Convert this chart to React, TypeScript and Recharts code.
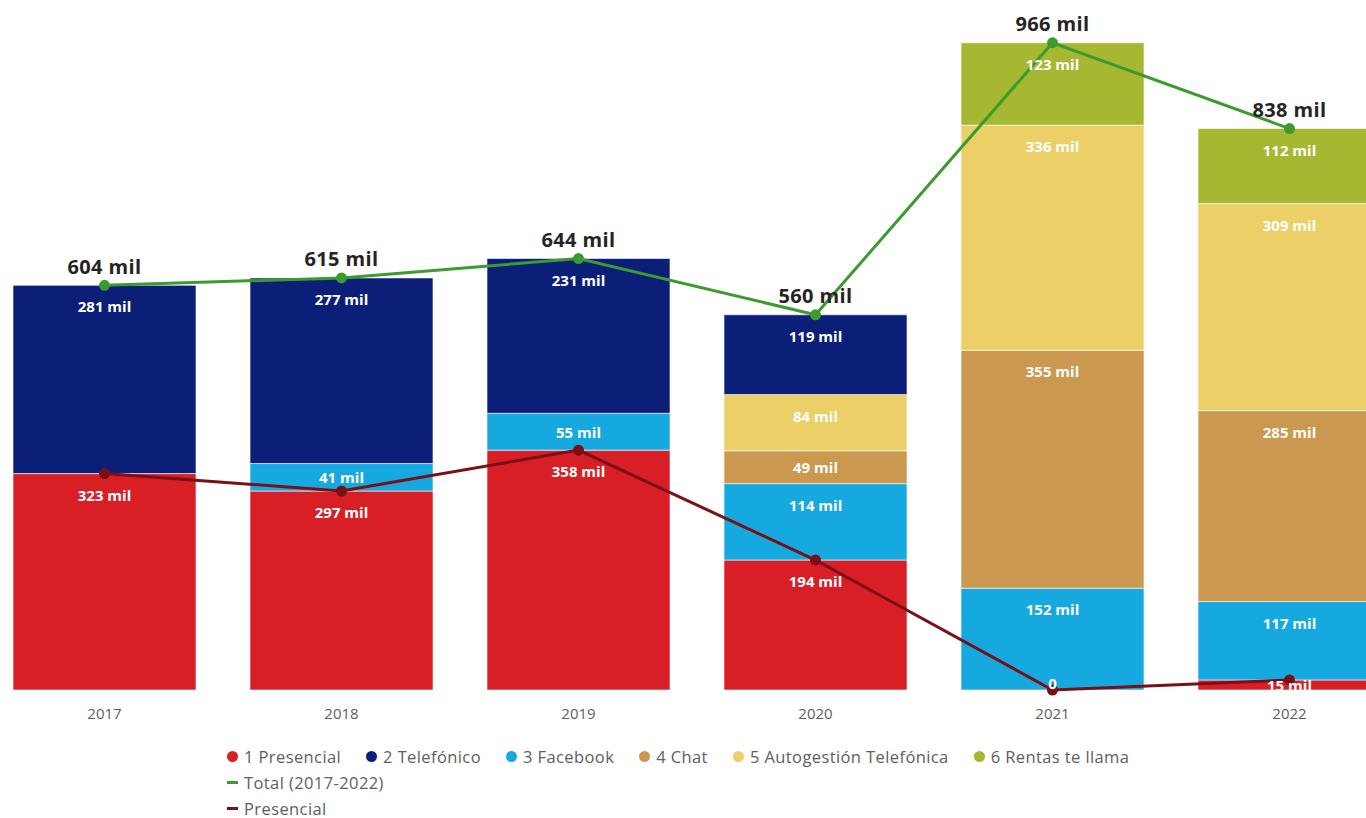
import React from "react";
import { Bar, ComposedChart, LabelList, Line, XAxis, YAxis } from "recharts";

// values in thousands ("mil")
const years = ["2017", "2018", "2019", "2020", "2021", "2022"];
const presencial = [323, 297, 358, 194, 0, 15];
const telefonico = [281, 277, 231, 119, null, null];
const facebook = [null, 41, 55, 114, 152, 117];
const chat = [null, null, null, 49, 355, 285];
const autogestion = [null, null, null, 84, 336, 309];
const rentas = [null, null, null, null, 123, 112];
const total = [604, 615, 644, 560, 966, 838];

const series = [
  { key: "presencial", name: "1 Presencial", color: "#D81F26", values: presencial },
  { key: "facebook", name: "3 Facebook", color: "#16A9DF", values: facebook },
  { key: "chat", name: "4 Chat", color: "#CB9850", values: chat },
  { key: "autogestion", name: "5 Autogestión Telefónica", color: "#EDCF67", values: autogestion },
  { key: "telefonico", name: "2 Telefónico", color: "#0B1F79", values: telefonico },
  { key: "rentas", name: "6 Rentas te llama", color: "#A6B832", values: rentas },
];

const legendOrder = ["presencial", "telefonico", "facebook", "chat", "autogestion", "rentas"];

const TOTAL_COLOR = "#3C9B2F";
const PRES_LINE_COLOR = "#7A0F16";

const data = years.map((year, i) => {
  const row: Record<string, any> = { year, total: total[i], presLine: presencial[i] };
  series.forEach((s) => {
    row[s.key] = s.values[i];
  });
  return row;
});

const font = "'Open Sans', 'DejaVu Sans', sans-serif";

function SegmentLabel(props: any) {
  const { x, y, width, height, value } = props;
  if (value === null || value === undefined || value === 0) return null;
  const h = Math.abs(height || 0);
  const cy = y + Math.min(21, h / 2);
  return (
    <text
      x={x + width / 2}
      y={cy}
      textAnchor="middle"
      dominantBaseline="central"
      fill="#ffffff"
      fontFamily={font}
      fontWeight={700}
      fontSize={15}
    >
      {`${value} mil`}
    </text>
  );
}

// bars of height 0 are not drawn, so the "0" label rides on the line point
function ZeroLabel(props: any) {
  const { x, y, value } = props;
  if (value !== 0) return null;
  return (
    <text
      x={x}
      y={y - 7}
      textAnchor="middle"
      dominantBaseline="central"
      fill="#ffffff"
      fontFamily={font}
      fontWeight={700}
      fontSize={15}
    >
      0
    </text>
  );
}

function TotalLabel(props: any) {
  const { x, y, value } = props;
  return (
    <text
      x={x}
      y={y - 19}
      textAnchor="middle"
      dominantBaseline="central"
      fill="#252423"
      fontFamily={font}
      fontWeight={700}
      fontSize={20}
      letterSpacing={0.4}
    >
      {`${value} mil`}
    </text>
  );
}

function Legend() {
  const items = legendOrder.map((k) => series.find((s) => s.key === k)!);
  const text: React.CSSProperties = {
    fontFamily: font,
    fontSize: 16.5,
    letterSpacing: 0.4,
    color: "#605E5C",
    whiteSpace: "nowrap",
  };
  return (
    <div style={{ position: "absolute", left: 227, top: 743 }}>
      <div style={{ display: "flex", gap: 25, alignItems: "center", height: 26 }}>
        {items.map((s) => (
          <div key={s.key} style={{ display: "flex", alignItems: "center", gap: 6, ...text }}>
            <span style={{ width: 11, height: 11, borderRadius: "50%", background: s.color, display: "inline-block" }} />
            {s.name}
          </div>
        ))}
      </div>
      <div style={{ display: "flex", alignItems: "center", gap: 6, height: 27, ...text }}>
        <span style={{ width: 11, height: 3, background: TOTAL_COLOR, display: "inline-block" }} />
        Total (2017-2022)
      </div>
      <div style={{ display: "flex", alignItems: "center", gap: 6, height: 24, ...text }}>
        <span style={{ width: 11, height: 3, background: PRES_LINE_COLOR, display: "inline-block" }} />
        Presencial
      </div>
    </div>
  );
}

export default function App() {
  return (
    <div
      style={{
        position: "absolute",
        left: 0,
        top: 0,
        width: 1366,
        height: 818,
        overflow: "hidden",
        background: "#ffffff",
      }}
    >
      <div style={{ position: "absolute", left: -14.5, top: 0 }}>
        <ComposedChart
          width={1422}
          height={740}
          data={data}
          margin={{ top: 20, right: 0, bottom: 20, left: 0 }}
          barSize={183}
        >
          <XAxis
            dataKey="year"
            height={30}
            axisLine={false}
            tickLine={false}
            tickSize={0}
            tickMargin={18}
            tick={{ fill: "#605E5C", fontSize: 15, fontFamily: font }}
          />
          <YAxis hide domain={[0, 1000]} />
          {series.map((s) => (
            <Bar
              key={s.key}
              dataKey={s.key}
              stackId="a"
              fill={s.color}
              stroke="#ffffff"
              strokeOpacity={0.6}
              strokeWidth={1}
              isAnimationActive={false}
            >
              <LabelList dataKey={s.key} content={SegmentLabel} />
            </Bar>
          ))}
          <Line
            dataKey="presLine"
            stroke={PRES_LINE_COLOR}
            strokeWidth={3}
            dot={{ r: 4, fill: PRES_LINE_COLOR, stroke: PRES_LINE_COLOR }}
            isAnimationActive={false}
          >
            <LabelList dataKey="presLine" content={ZeroLabel} />
          </Line>
          <Line
            dataKey="total"
            stroke={TOTAL_COLOR}
            strokeWidth={3}
            dot={{ r: 4, fill: TOTAL_COLOR, stroke: TOTAL_COLOR }}
            isAnimationActive={false}
          >
            <LabelList dataKey="total" content={TotalLabel} />
          </Line>
        </ComposedChart>
      </div>
      <Legend />
    </div>
  );
}
